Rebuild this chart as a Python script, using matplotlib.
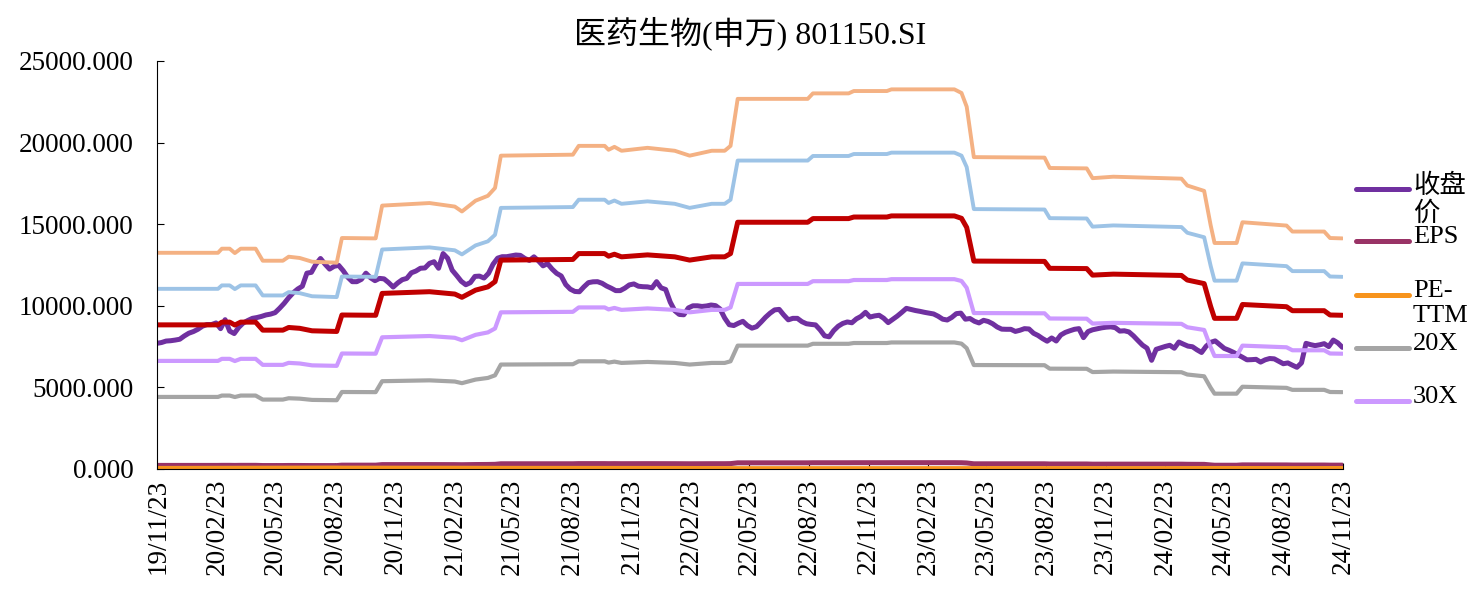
import numpy as np
import pandas as pd
import matplotlib
matplotlib.use('Agg')
import matplotlib.pyplot as plt
import matplotlib.dates as mdates
from matplotlib.lines import Line2D
from matplotlib.ticker import FormatStrFormatter

plt.rcParams['font.family'] = ['Liberation Serif', 'Noto Sans CJK SC', 'DejaVu Sans']

title = '医药生物(申万) 801150.SI'

# weekly close, 2019-11-22 .. 2024-11-22 (fridays)
week_start = '2019-11-22'
close = [
    7700, 7750, 7840, 7860, 7900, 7950, 8150, 8320, 8420, 8560,
    8750, 8850, 8850, 8950, 8600, 9150, 8450, 8300, 8680, 8950,
    9100, 9231, 9280, 9350, 9440, 9490, 9580, 9850, 10150, 10500,
    10800, 11030, 11200, 12000, 12050, 12550, 12900, 12550, 12250, 12420,
    12480, 12150, 11750, 11478, 11478, 11620, 12000, 11720, 11540, 11680,
    11650, 11420, 11150, 11400, 11600, 11680, 12020, 12130, 12300, 12320,
    12600, 12700, 12300, 13200, 12910, 12180, 11850, 11500, 11290, 11420,
    11800, 11820, 11700, 11990, 12550, 12920, 13009, 13009, 13060, 13111,
    13090, 12900, 12780, 13000, 12750, 12450, 12580, 12250, 11988, 11830,
    11300, 11020, 10880, 10860, 11160, 11420, 11470, 11478, 11380, 11210,
    11080, 10930, 10930, 11080, 11280, 11340, 11200, 11170, 11160, 11100,
    11478, 11100, 11000, 10230, 9700, 9470, 9450, 9870, 10000, 10000,
    9960, 9990, 10048, 10010, 9800, 9250, 8840, 8790, 8930, 9050,
    8790, 8630, 8721, 9000, 9300, 9550, 9750, 9780, 9440, 9140,
    9231, 9231, 9027, 8900, 8860, 8830, 8530, 8160, 8100, 8480,
    8750, 8920, 9010, 8960, 9200, 9350, 9600, 9310, 9380, 9420,
    9240, 8970, 9170, 9370, 9600, 9844, 9780, 9710, 9660, 9600,
    9550, 9500, 9360, 9180, 9130, 9290, 9520, 9550, 9180, 9220,
    9050, 8950, 9110, 9040, 8900, 8700, 8570, 8560, 8560, 8430,
    8500, 8600, 8580, 8320, 8180, 7990, 7830, 8030, 7843, 8210,
    8370, 8470, 8560, 8600, 8050, 8420, 8530, 8590, 8650, 8690,
    8710, 8660, 8450, 8470, 8400, 8160, 7870, 7590, 7400, 6660,
    7333, 7420, 7510, 7580, 7400, 7780, 7650, 7530, 7490, 7300,
    7140, 7520, 7760, 7850, 7620, 7390, 7280, 7150, 7000, 6850,
    6690, 6700, 6720, 6550, 6690, 6770, 6750, 6600, 6450, 6500,
    6360, 6230, 6500, 7700, 7620, 7560, 7610, 7680, 7500, 7900,
    7730, 7455,
]

eps_dates = [
    '2019-11-22', '2020-02-24', '2020-03-01', '2020-03-13', '2020-03-21',
    '2020-03-30', '2020-04-22', '2020-05-03', '2020-06-03', '2020-06-12',
    '2020-06-29', '2020-07-18', '2020-08-25', '2020-09-02', '2020-10-24',
    '2020-11-03', '2021-01-15', '2021-02-23', '2021-03-06', '2021-03-27',
    '2021-04-15', '2021-04-26', '2021-05-05', '2021-08-24', '2021-09-02',
    '2021-10-12', '2021-10-18', '2021-10-27', '2021-11-07', '2021-12-17',
    '2022-01-28', '2022-02-20', '2022-03-26', '2022-04-15', '2022-04-24',
    '2022-05-05', '2022-08-21', '2022-08-29', '2022-10-23', '2022-10-31',
    '2022-12-21', '2022-12-28', '2023-04-04', '2023-04-15', '2023-04-23',
    '2023-05-04', '2023-08-21', '2023-08-29', '2023-10-25', '2023-11-03',
    '2023-12-05', '2024-03-19', '2024-03-28', '2024-04-23', '2024-05-03',
    '2024-05-09', '2024-06-12', '2024-06-21', '2024-08-28', '2024-09-06',
    '2024-10-25', '2024-11-03', '2024-11-22',
]
eps = [
    220.8, 220.8, 225.0, 225.0, 220.5,
    225.0, 225.0, 212.7, 212.7, 216.8,
    215.5, 211.7, 210.7, 235.9, 235.5,
    269.0, 271.6, 268.0, 263.0, 274.0,
    279.0, 287.0, 320.0, 321.0, 330.0,
    330.0, 326.0, 329.0, 325.0, 328.0,
    325.0, 320.0, 325.0, 325.0, 330.0,
    378.0, 378.0, 383.6, 383.6, 386.0,
    386.0, 387.7, 387.7, 384.0, 370.0,
    318.5, 318.0, 307.4, 307.0, 297.0,
    298.5, 296.5, 289.5, 284.0, 249.0,
    230.8, 230.8, 252.0, 248.6, 242.5,
    242.5, 235.9, 235.5,
]

pe_dates = ['2019-11-22', '2020-08-21', '2020-09-04', '2021-02-12', '2021-05-07',
            '2022-01-28', '2022-05-06', '2023-04-28', '2023-05-05', '2024-02-02',
            '2024-05-10', '2024-09-20', '2024-11-22']
pe_ttm = [34.9, 59.3, 53.0, 48.5, 40.6, 34.0, 23.4, 24.4, 29.0, 22.8, 33.0, 26.0, 31.6]

multiples = [20, 30, 40, 50, 60]
band_labels = ['20X', '30X', '40X', '50X', '60X']
band_colors = ['#A5A5A5', '#CC99FF', '#C00000', '#9DC3E6', '#F4B183']
band_widths = [3.0, 3.0, 3.6, 2.8, 2.8]

weeks = pd.date_range(week_start, periods=len(close), freq='7D')
eps_t = pd.to_datetime(eps_dates)
eps_v = np.array(eps)

fig = plt.figure(figsize=(14.68, 5.93), dpi=100)
ax = fig.add_axes([157 / 1468, 1 - 469 / 593, (1343 - 157) / 1468, (469 - 61) / 593])

l_close, = ax.plot(weeks, close, color='#7030A0', lw=3.6, solid_capstyle='round')
l_eps, = ax.plot(eps_t, eps_v, color='#993366', lw=3.6, solid_capstyle='round')
l_pe, = ax.plot(pd.to_datetime(pe_dates), pe_ttm, color='#F7941D', lw=3.6, solid_capstyle='round')
band_lines = []
for m, c, w in zip(multiples, band_colors, band_widths):
    ln, = ax.plot(eps_t, eps_v * m, color=c, lw=w, solid_capstyle='round')
    band_lines.append(ln)

ax.set_ylim(0, 25000)
ax.set_xlim(pd.Timestamp('2019-11-22'), pd.Timestamp('2024-11-23'))
ax.yaxis.set_major_formatter(FormatStrFormatter('%.3f'))
ax.set_yticks(np.arange(0, 25001, 5000))
xt = pd.date_range('2019-11-23', '2024-11-23', freq=pd.DateOffset(months=3))
ax.set_xticks(xt)
ax.xaxis.set_major_formatter(mdates.DateFormatter('%y/%m/%d'))
plt.setp(ax.get_xticklabels(), rotation=90, ha='center', va='top')
ax.tick_params(axis='y', direction='in', length=5, pad=17, labelsize=19.5)
ax.tick_params(axis='x', direction='in', length=4, pad=7, labelsize=19.5)
ax.spines['top'].set_visible(False)
ax.spines['right'].set_visible(False)
ax.set_title(title, fontsize=23, pad=13)

# legend drawn on the right, labels wrap like the original
leg_handles = [l_close, l_eps, l_pe, band_lines[0], band_lines[1]]
leg_texts = ['收盘\n价', 'EPS', 'PE-\nTTM', '20X', '30X']
leg_rows = [189, 241, 295, 348, 401]
for h, t, yy in zip(leg_handles, leg_texts, leg_rows):
    fy = 1 - yy / 593
    fig.add_artist(Line2D([1356 / 1468, 1409 / 1468], [fy, fy], color=h.get_color(),
                          lw=3.6, solid_capstyle='round'))
    fig.text(1413 / 1468, fy + 0.025, t, fontsize=19, va='top', ha='left', linespacing=1.15)

fig.savefig('out.png', dpi=100)
